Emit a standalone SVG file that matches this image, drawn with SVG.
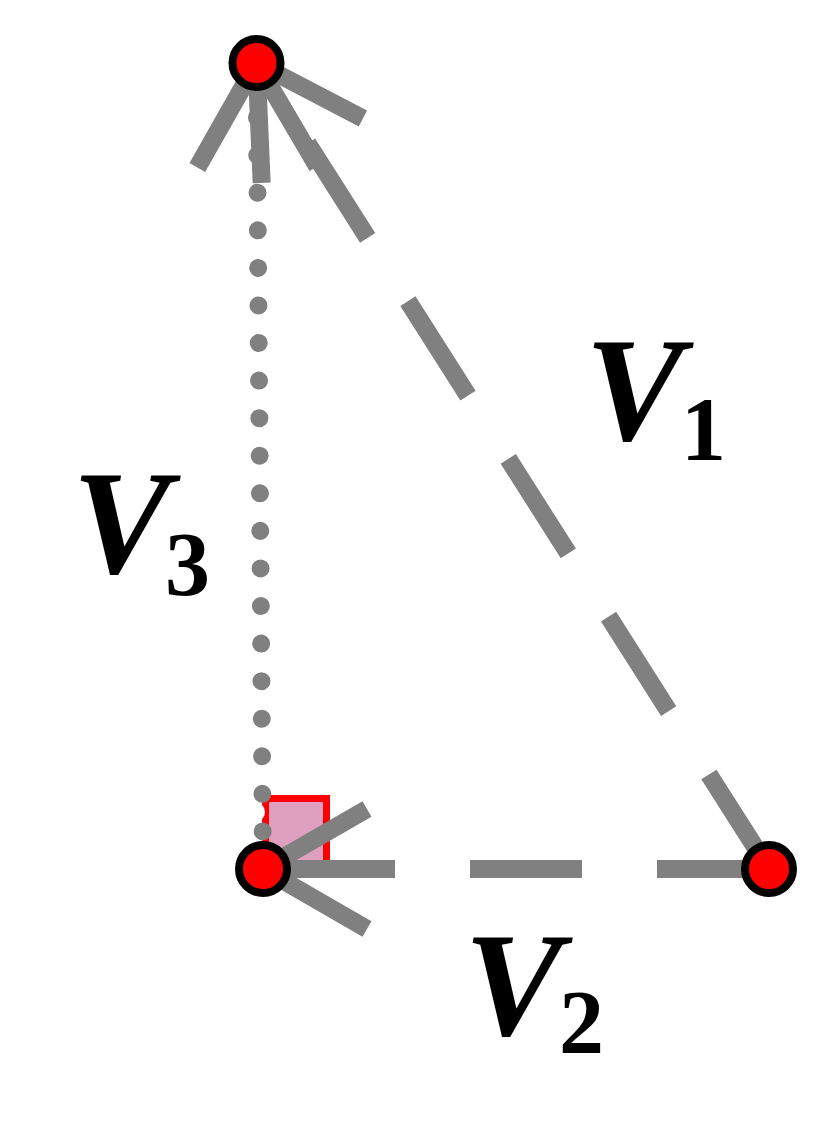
<svg xmlns="http://www.w3.org/2000/svg" width="832" height="1139" viewBox="0 0 832 1139">
  <style>
    .dash { fill: none; stroke: #808080; stroke-width: 18; stroke-dasharray: 112 75; stroke-linecap: butt; }
    .dots { fill: none; stroke: #808080; stroke-width: 18; stroke-dasharray: 0.01 37.56; stroke-linecap: round; }
    .node { fill: #ff0000; stroke: #000000; stroke-width: 8; }
    .lbl { font-family: "Liberation Serif", "Times New Roman", serif; font-weight: bold; fill: #000000; }
    .v { font-style: italic; font-size: 148px; }
    .sub { font-style: normal; font-size: 90px; }
  </style>
  <defs>
    <marker id="arrow" markerUnits="userSpaceOnUse" orient="auto" refX="0" refY="0" markerWidth="10" markerHeight="10" overflow="visible">
      <path d="M0,0 L-104,-60 M0,0 L-104,60" fill="none" stroke="#808080" stroke-width="18" stroke-linecap="butt"/>
    </marker>
  </defs>
  <rect width="832" height="1139" fill="#ffffff"/>
  <g id="right-angle">
    <rect x="265.5" y="798.5" width="61" height="70" fill="#dfa0c0" stroke="#ff0000" stroke-width="7"/>
    <circle cx="255" cy="812" r="10" fill="#ffffff"/>
  </g>
  <g id="connectors">
    <path id="V3-line" class="dots" d="M263,869 L256.5,63" marker-end="url(#arrow)"/>
    <path id="V1-line" class="dash" d="M769,869 L256.5,63" marker-end="url(#arrow)"/>
    <path id="V2-line" class="dash" d="M769,869 L263,869" marker-end="url(#arrow)"/>
  </g>
  <g id="node-top">
    <circle class="node" cx="256.5" cy="63" r="24"/>
  </g>
  <g id="node-corner">
    <circle class="node" cx="263" cy="869" r="24"/>
  </g>
  <g id="node-right">
    <circle class="node" cx="769" cy="869" r="24"/>
  </g>
  <g id="label-V1">
    <text class="lbl" x="585" y="440"><tspan class="v">V</tspan><tspan class="sub" x="681" y="460">1</tspan></text>
  </g>
  <g id="label-V3">
    <text class="lbl" x="72" y="573"><tspan class="v">V</tspan><tspan class="sub" x="165" y="595">3</tspan></text>
  </g>
  <g id="label-V2">
    <text class="lbl" x="464" y="1035"><tspan class="v">V</tspan><tspan class="sub" x="559" y="1053">2</tspan></text>
  </g>
</svg>
